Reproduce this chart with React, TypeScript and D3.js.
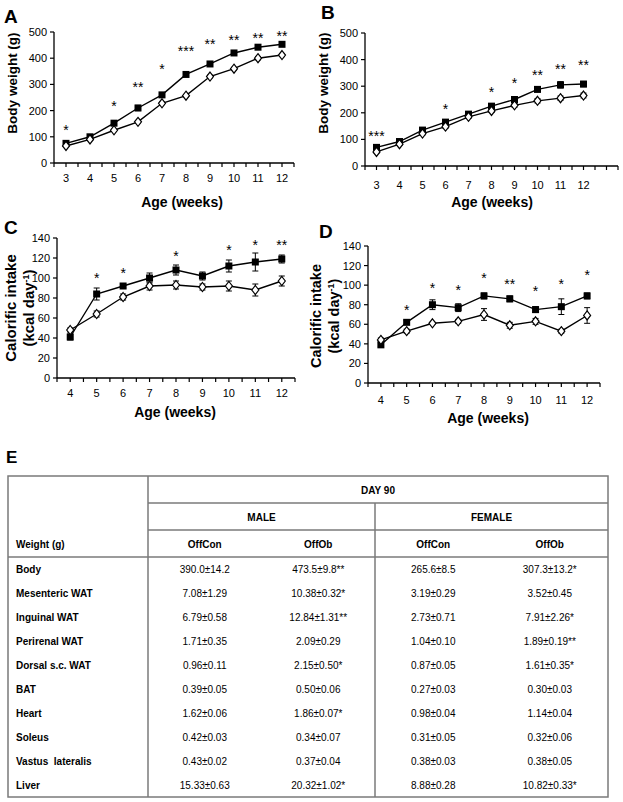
import React from "react";
import * as d3 from "d3";

// ---------- DATA ----------
const weeksAB = [3, 4, 5, 6, 7, 8, 9, 10, 11, 12];
const weeksCD = [4, 5, 6, 7, 8, 9, 10, 11, 12];

// Panel A – male body weight (g)
const aOffOb = [75, 100, 152, 210, 260, 338, 378, 420, 442, 453];
const aOffObErr = [4, 4, 5, 10, 7, 6, 5, 5, 5, 5];
const aOffCon = [65, 90, 125, 157, 228, 257, 330, 360, 400, 412];
const aOffConErr = [3, 3, 4, 4, 5, 4, 5, 5, 6, 6];
const aStars = ["*", "", "*", "**", "*", "***", "**", "**", "**", "**"];
const aStarY = [137, 0, 229, 302, 370, 439, 466, 481, 489, 496];

// Panel B – female body weight (g)
const bOffOb = [70, 92, 135, 165, 195, 225, 250, 288, 305, 308];
const bOffObErr = [5, 5, 6, 6, 6, 8, 8, 9, 12, 10];
const bOffCon = [53, 82, 122, 148, 185, 207, 228, 245, 255, 265];
const bOffConErr = [4, 4, 5, 6, 6, 6, 7, 8, 8, 9];
const bStars = ["***", "", "", "*", "", "*", "*", "**", "**", "**"];
const bStarY = [124, 0, 0, 225, 0, 289, 323, 353, 376, 391];

// Panel C – male calorific intake (kcal/day)
const cOffOb = [41, 84, 92, 100, 108, 102, 112, 116, 119];
const cOffObErr = [3, 6, 2, 5, 5, 4, 6, 9, 4];
const cOffCon = [48, 64, 81, 92, 93, 91, 92, 88, 97];
const cOffConErr = [2, 3, 3, 4, 4, 3, 5, 6, 5];
const cStars = ["", "*", "*", "", "*", "", "*", "*", "**"];
const cStarY = [0, 103, 108, 0, 125, 0, 131, 136, 136];

// Panel D – female calorific intake (kcal/day)
const dOffOb = [39, 62, 80, 77, 89, 86, 75, 78, 89];
const dOffObErr = [2, 2, 5, 4, 3, 3, 3, 8, 3];
const dOffCon = [44, 53, 61, 63, 70, 59, 63, 53, 69];
const dOffConErr = [2, 2, 1, 2, 6, 3, 3, 2, 8];
const dStars = ["", "*", "*", "*", "*", "**", "*", "*", "*"];
const dStarY = [0, 78, 100, 98, 110, 104, 97, 104, 113];

// Table E
const tissues = [
  "Body", "Mesenteric WAT", "Inguinal WAT", "Perirenal WAT", "Dorsal s.c. WAT",
  "BAT", "Heart", "Soleus", "Vastus  lateralis", "Liver",
];
const maleOffCon = ["390.0±14.2", "7.08±1.29", "6.79±0.58", "1.71±0.35", "0.96±0.11", "0.39±0.05", "1.62±0.06", "0.42±0.03", "0.43±0.02", "15.33±0.63"];
const maleOffOb = ["473.5±9.8**", "10.38±0.32*", "12.84±1.31**", "2.09±0.29", "2.15±0.50*", "0.50±0.06", "1.86±0.07*", "0.34±0.07", "0.37±0.04", "20.32±1.02*"];
const femaleOffCon = ["265.6±8.5", "3.19±0.29", "2.73±0.71", "1.04±0.10", "0.87±0.05", "0.27±0.03", "0.98±0.04", "0.31±0.05", "0.38±0.03", "8.88±0.28"];
const femaleOffOb = ["307.3±13.2*", "3.52±0.45", "7.91±2.26*", "1.89±0.19**", "1.61±0.35*", "0.30±0.03", "1.14±0.04", "0.32±0.06", "0.38±0.05", "10.82±0.33*"];

const FONT = "'Liberation Sans', Arial, Helvetica, sans-serif";

type PanelProps = {
  letter: string;
  letterX: number;
  letterY: number;
  weeks: number[];
  slots: number;
  x0: number;
  x1: number;
  yTop: number;
  yBot: number;
  yMax: number;
  yStep: number;
  ob: number[];
  obErr: number[];
  con: number[];
  conErr: number[];
  stars: string[];
  starY: number[];
  yTitle: string[];
  yTitleX: number[];
  yTitleCY: number;
  yTitleSize: number;
  xTitleX: number;
  xTitleY: number;
  tickLabelY: number;
  superscript?: boolean;
};

function Panel(p: PanelProps) {
  const slotKeys = d3.range(p.slots).map((i) => String(i));
  const xb = d3.scaleBand<string>().domain(slotKeys).range([p.x0, p.x1]).padding(0);
  const bw = xb.bandwidth();
  const xc = (i: number) => (xb(String(i)) as number) + bw / 2;
  const y = d3.scaleLinear().domain([0, p.yMax]).range([p.yBot, p.yTop]);
  const yTicks = d3.range(0, p.yMax + 0.001, p.yStep);
  const xTickPos = d3.range(p.slots * 2 + 1).map((k) => p.x0 + (k * bw) / 2);

  const line = d3
    .line<number>()
    .x((_, i) => xc(i))
    .y((v) => y(v));

  const errBars = (vals: number[], errs: number[]) =>
    vals.map((v, i) => (
      <g key={i} stroke="#000" strokeWidth={1}>
        <line x1={xc(i)} x2={xc(i)} y1={y(v - errs[i])} y2={y(v + errs[i])} />
        <line x1={xc(i) - 3} x2={xc(i) + 3} y1={y(v - errs[i])} y2={y(v - errs[i])} />
        <line x1={xc(i) - 3} x2={xc(i) + 3} y1={y(v + errs[i])} y2={y(v + errs[i])} />
      </g>
    ));

  return (
    <g fontFamily={FONT}>
      <text x={p.letterX} y={p.letterY} fontSize={19} fontWeight="bold">
        {p.letter}
      </text>
      {/* axes */}
      <line x1={p.x0} x2={p.x0} y1={p.yBot} y2={p.yTop} stroke="#000" strokeWidth={1.3} />
      <line x1={p.x0} x2={p.x1} y1={p.yBot} y2={p.yBot} stroke="#000" strokeWidth={1.3} />
      {yTicks.map((t) => (
        <g key={t}>
          <line x1={p.x0 - 4} x2={p.x0} y1={y(t)} y2={y(t)} stroke="#000" strokeWidth={1.2} />
          <text x={p.x0 - 7} y={y(t) + 4} fontSize={11} textAnchor="end">
            {t}
          </text>
        </g>
      ))}
      {xTickPos.map((xx, k) => (
        <line key={k} x1={xx} x2={xx} y1={p.yBot} y2={p.yBot + 4} stroke="#000" strokeWidth={1.2} />
      ))}
      {p.weeks.map((w, i) => (
        <text key={w} x={xc(i)} y={p.tickLabelY} fontSize={11} textAnchor="middle">
          {w}
        </text>
      ))}
      {/* titles */}
      {p.yTitle.map((t, k) => (
        <text
          key={k}
          transform={`translate(${p.yTitleX[k]},${p.yTitleCY}) rotate(-90)`}
          fontSize={p.yTitleSize}
          fontWeight="bold"
          textAnchor="middle"
        >
          {p.superscript && k === 1 ? (
            <>
              (kcal day
              <tspan dy={-5} fontSize={9}>
                -1
              </tspan>
              <tspan dy={5}>)</tspan>
            </>
          ) : (
            t
          )}
        </text>
      ))}
      <text x={p.xTitleX} y={p.xTitleY} fontSize={14} fontWeight="bold" textAnchor="middle">
        Age (weeks)
      </text>
      {/* error bars */}
      {errBars(p.ob, p.obErr)}
      {errBars(p.con, p.conErr)}
      {/* lines */}
      <path d={line(p.ob) ?? ""} fill="none" stroke="#000" strokeWidth={1.4} />
      <path d={line(p.con) ?? ""} fill="none" stroke="#000" strokeWidth={1.4} />
      {/* markers */}
      {p.ob.map((v, i) => (
        <rect key={i} x={xc(i) - 3.5} y={y(v) - 3.5} width={7} height={7} fill="#000" />
      ))}
      {p.con.map((v, i) => {
        const cx = xc(i);
        const cy = y(v);
        return (
          <path
            key={i}
            d={`M${cx},${cy - 4.5}L${cx + 3.5},${cy}L${cx},${cy + 4.5}L${cx - 3.5},${cy}Z`}
            fill="#fff"
            stroke="#000"
            strokeWidth={1.2}
          />
        );
      })}
      {/* significance */}
      {p.stars.map((s, i) =>
        s ? (
          <text key={i} x={xc(i)} y={y(p.starY[i]) + 8} fontSize={14} textAnchor="middle">
            {s}
          </text>
        ) : null
      )}
    </g>
  );
}

function Table() {
  const L = 8, R = 608, T = 476, B = 797;
  const c1 = 148, c2 = 375;
  const hRows = [T, 503, 530, 557];
  const rowH = (B - 557) / tissues.length;
  const colCenters = [(c1 + (c1 + c2) / 2) / 2, ((c1 + c2) / 2 + c2) / 2, (c2 + (c2 + R) / 2) / 2, ((c2 + R) / 2 + R) / 2];
  const stroke = "#7a7a7a";
  const sw = 1.5;
  const cols = [maleOffCon, maleOffOb, femaleOffCon, femaleOffOb];
  return (
    <g fontFamily={FONT} fontSize={10}>
      <text x={6} y={463} fontSize={17} fontWeight="bold">
        E
      </text>
      <rect x={L} y={T} width={R - L} height={B - T} fill="none" stroke={stroke} strokeWidth={sw} />
      <line x1={c1} x2={c1} y1={T} y2={B} stroke={stroke} strokeWidth={sw} />
      <line x1={c2} x2={c2} y1={hRows[1]} y2={B} stroke={stroke} strokeWidth={sw} />
      <line x1={c1} x2={R} y1={hRows[1]} y2={hRows[1]} stroke={stroke} strokeWidth={sw} />
      <line x1={c1} x2={R} y1={hRows[2]} y2={hRows[2]} stroke={stroke} strokeWidth={sw} />
      <line x1={L} x2={R} y1={hRows[3]} y2={hRows[3]} stroke={stroke} strokeWidth={sw} />
      <text x={(c1 + R) / 2} y={(hRows[0] + hRows[1]) / 2 + 4} fontWeight="bold" textAnchor="middle">
        DAY 90
      </text>
      <text x={(c1 + c2) / 2} y={(hRows[1] + hRows[2]) / 2 + 4} fontWeight="bold" textAnchor="middle">
        MALE
      </text>
      <text x={(c2 + R) / 2} y={(hRows[1] + hRows[2]) / 2 + 4} fontWeight="bold" textAnchor="middle">
        FEMALE
      </text>
      {["OffCon", "OffOb", "OffCon", "OffOb"].map((h, k) => (
        <text key={k} x={colCenters[k]} y={(hRows[2] + hRows[3]) / 2 + 4} fontWeight="bold" textAnchor="middle">
          {h}
        </text>
      ))}
      <text x={16} y={(hRows[2] + hRows[3]) / 2 + 4} fontWeight="bold">
        Weight (g)
      </text>
      {tissues.map((t, r) => {
        const cy = 557 + rowH * (r + 0.5) + 3.5;
        return (
          <g key={t}>
            <text x={16} y={cy} fontWeight="bold" style={{ whiteSpace: "pre" }}>
              {t}
            </text>
            {cols.map((col, k) => (
              <text key={k} x={colCenters[k]} y={cy} textAnchor="middle">
                {col[r]}
              </text>
            ))}
          </g>
        );
      })}
    </g>
  );
}

export default function App() {
  return (
    <svg
      width={623}
      height={802}
      style={{ position: "absolute", left: 0, top: 0, background: "#fff" }}
    >
      <rect width={623} height={802} fill="#fff" />
      <Panel
        letter="A" letterX={4} letterY={23}
        weeks={weeksAB} slots={10} x0={54} x1={294} yTop={32} yBot={163} yMax={500} yStep={100}
        ob={aOffOb} obErr={aOffObErr} con={aOffCon} conErr={aOffConErr}
        stars={aStars} starY={aStarY}
        yTitle={["Body weight (g)"]} yTitleX={[17]} yTitleCY={83} yTitleSize={13.5}
        xTitleX={182} xTitleY={207} tickLabelY={182}
      />
      <Panel
        letter="B" letterX={321} letterY={19}
        weeks={weeksAB} slots={11} x0={365} x1={618} yTop={33} yBot={166} yMax={500} yStep={100}
        ob={bOffOb} obErr={bOffObErr} con={bOffCon} conErr={bOffConErr}
        stars={bStars} starY={bStarY}
        yTitle={["Body weight (g)"]} yTitleX={[328]} yTitleCY={83} yTitleSize={13.5}
        xTitleX={492} xTitleY={207} tickLabelY={189}
      />
      <Panel
        letter="C" letterX={4} letterY={234}
        weeks={weeksCD} slots={9} x0={57} x1={295} yTop={238} yBot={378} yMax={140} yStep={20}
        ob={cOffOb} obErr={cOffObErr} con={cOffCon} conErr={cOffConErr}
        stars={cStars} starY={cStarY}
        yTitle={["Calorific intake", "(kcal day-1)"]} yTitleX={[16, 34]} yTitleCY={308} yTitleSize={15}
        xTitleX={175} xTitleY={417} tickLabelY={397} superscript
      />
      <Panel
        letter="D" letterX={319} letterY={238}
        weeks={weeksCD} slots={9} x0={368} x1={600} yTop={246} yBot={383} yMax={140} yStep={20}
        ob={dOffOb} obErr={dOffObErr} con={dOffCon} conErr={dOffConErr}
        stars={dStars} starY={dStarY}
        yTitle={["Calorific intake", "(kcal day-1)"]} yTitleX={[321, 339]} yTitleCY={316} yTitleSize={14.5}
        xTitleX={488} xTitleY={423} tickLabelY={404} superscript
      />
      <Table />
    </svg>
  );
}
